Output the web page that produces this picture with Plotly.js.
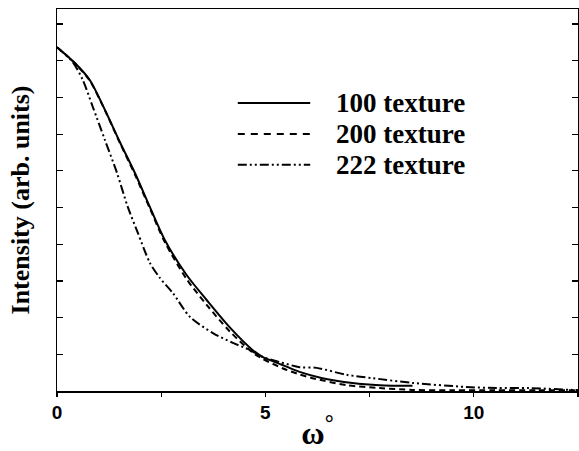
<!DOCTYPE html>
<html><head><meta charset="utf-8">
<script src="https://cdn.plot.ly/plotly-3.0.1.min.js"></script>
<style>html,body{margin:0;padding:0;background:#fff}#plot{width:579px;height:451px}</style>
</head><body><div id="plot"></div>
<script>
// Data
const seriesNames = ['100 texture', '200 texture', '222 texture'];
const x100 = [0, 0.43, 0.79, 1.15, 1.51, 1.87, 2.23, 2.59, 3.11, 3.59, 4.14, 4.69, 4.93, 5.41, 5.82, 6.37, 7.09, 7.74, 8.53];
const y100 = [0.937, 0.894, 0.847, 0.766, 0.678, 0.594, 0.501, 0.411, 0.316, 0.248, 0.174, 0.112, 0.093, 0.071, 0.052, 0.035, 0.022, 0.016, 0.014];
const x200 = [0, 0.43, 0.79, 1.15, 1.51, 1.87, 2.23, 2.59, 3.11, 3.59, 4.14, 4.69, 4.93, 5.41, 5.82, 6.13, 6.95, 7.74, 8.53, 9.5, 10.5, 11.5, 12.5];
const y200 = [0.937, 0.893, 0.845, 0.765, 0.676, 0.59, 0.497, 0.405, 0.305, 0.235, 0.163, 0.105, 0.088, 0.062, 0.045, 0.035, 0.016, 0.008, 0.003, 0.002, 0.002, 0.002, 0.002];
const x222 = [0, 0.38, 0.62, 0.86, 1.15, 1.44, 1.70, 1.94, 2.23, 2.47, 2.78, 3.19, 3.74, 4.22, 4.62, 4.93, 5.34, 5.82, 6.23, 6.95, 7.57, 8.53, 9.82, 10.54, 11.33, 12.36, 12.5];
const y222 = [0.937, 0.896, 0.847, 0.774, 0.684, 0.594, 0.501, 0.431, 0.349, 0.308, 0.267, 0.202, 0.158, 0.131, 0.112, 0.093, 0.079, 0.065, 0.063, 0.044, 0.035, 0.022, 0.011, 0.008, 0.008, 0.003, 0.003];
const xTickVals = [0, 5, 10];
const xTickText = ['0', '5', '10'];

const dashes = ['solid', '6px,4px', '9px,3px,2px,3px,2px,3px'];
const xs = [x100, x200, x222];
const ys = [y100, y200, y222];

const traces = xs.map((x, i) => ({
  x: x, y: ys[i], type: 'scatter', mode: 'lines', name: seriesNames[i],
  line: {color: '#000', width: 2, dash: dashes[i], shape: 'spline', smoothing: 0.8},
  showlegend: false
}));

// Manual legend (long line samples like the reference)
const legY = [0.754, 0.673, 0.592];
const shapes = legY.map((yy, i) => ({
  type: 'line', xref: 'paper', yref: 'paper', x0: 0.347, x1: 0.486, y0: yy, y1: yy,
  line: {color: '#000', width: 2, dash: i === 1 ? '7px,6px' : dashes[i]}
}));
const annotations = legY.map((yy, i) => ({
  xref: 'paper', yref: 'paper', x: 0.532, y: yy, xanchor: 'left', yanchor: 'middle',
  text: seriesNames[i], showarrow: false,
  font: {family: 'Liberation Serif, Times New Roman, serif', size: 27, weight: 'bold', color: '#000'}
}));

const layout = {
  width: 579, height: 451,
  margin: {l: 57, r: 1, t: 9, b: 60},
  paper_bgcolor: '#fff', plot_bgcolor: '#fff',
  showlegend: false,
  xaxis: {
    range: [0, 12.5], tickmode: 'array', tickvals: xTickVals, ticktext: xTickText,
    ticks: 'outside', ticklen: 4, tickwidth: 1.2, tickcolor: '#000',
    minor: {dtick: 2.5, tick0: 0, ticks: 'outside', ticklen: 4, tickwidth: 1.2, tickcolor: '#000', showgrid: false},
    showline: true, linecolor: '#000', linewidth: 1.5, mirror: true,
    showgrid: false, zeroline: false,
    tickfont: {family: 'Liberation Sans, Arial, sans-serif', size: 19, weight: 'bold', color: '#000'},
    title: {text: 'ω<sup>°</sup>', standoff: 2,
      font: {family: 'Liberation Serif, Times New Roman, serif', size: 32, weight: 'bold', color: '#000'}}
  },
  yaxis: {
    range: [0, 1.041], dtick: 0.1, tick0: 0, showticklabels: false,
    ticks: 'inside', ticklen: 6, tickwidth: 1.2, tickcolor: '#000',
    showline: true, linecolor: '#000', linewidth: 1.5, mirror: 'ticks',
    showgrid: false, zeroline: false,
    title: {text: 'Intensity (arb. units)', standoff: 18,
      font: {family: 'Liberation Serif, Times New Roman, serif', size: 26, weight: 'bold', color: '#000'}}
  },
  shapes: shapes,
  annotations: annotations
};

Plotly.newPlot('plot', traces, layout, {staticPlot: true, displayModeBar: false});
</script></body></html>
